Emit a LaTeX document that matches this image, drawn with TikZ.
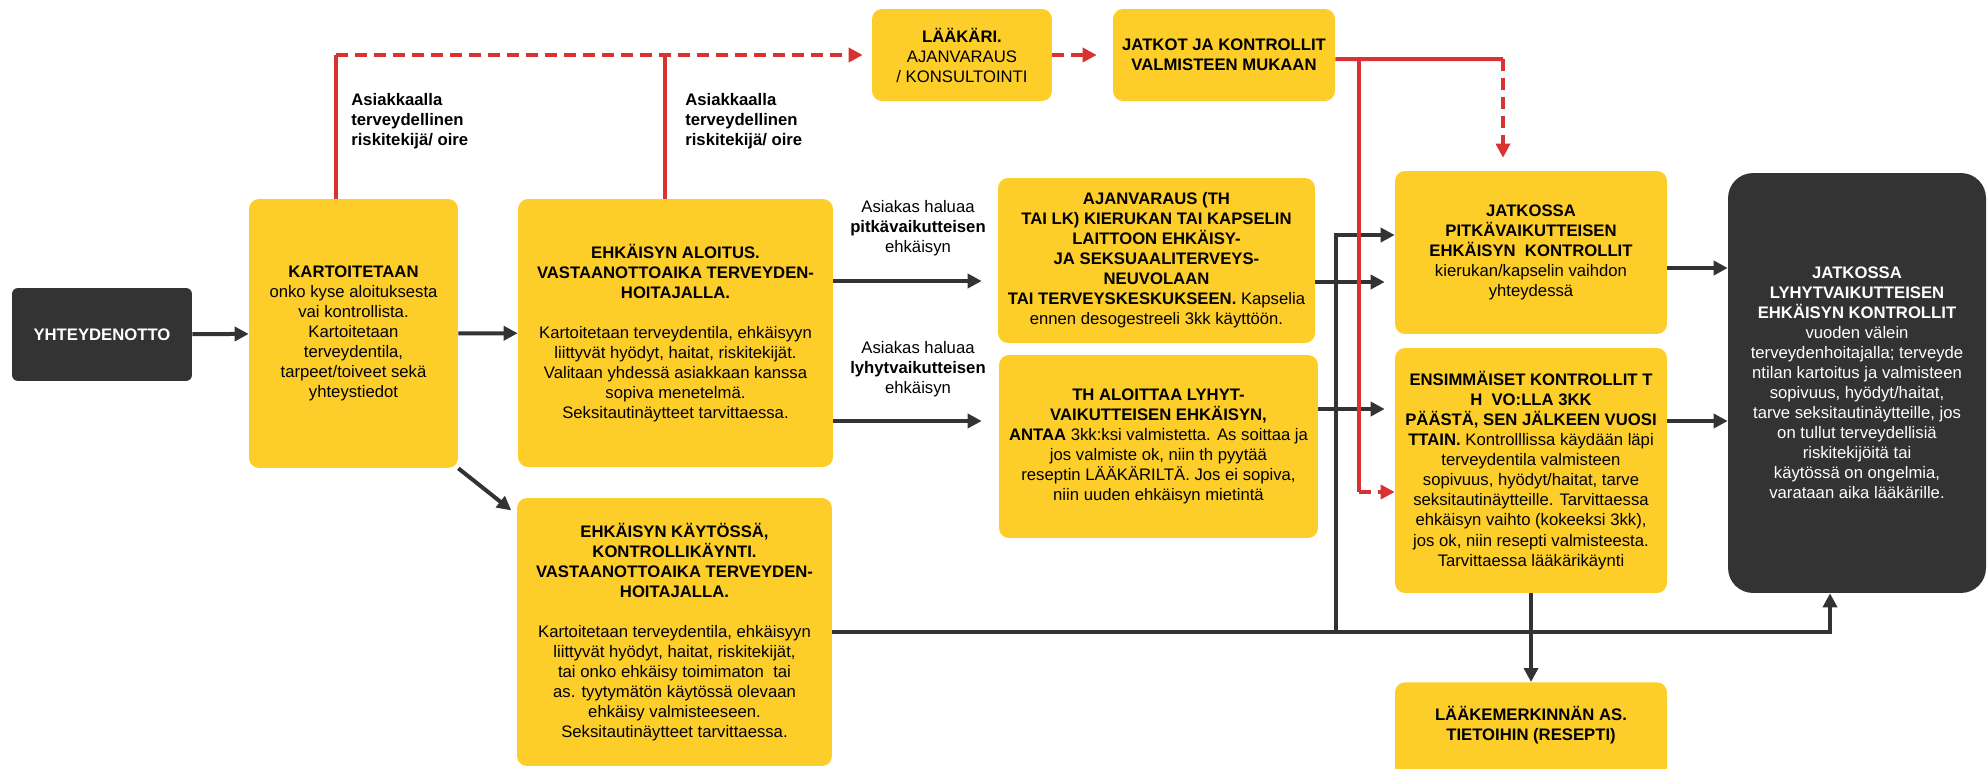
\documentclass[tikz,border=0pt]{standalone}
\usepackage{fontspec}
\setmainfont{Liberation Sans}
\usepackage{tikz}
\usepackage{xcolor}
\usetikzlibrary{arrows.meta}
\definecolor{boxyellow}{RGB}{253,206,42}
\definecolor{boxdark}{RGB}{51,51,51}
\definecolor{linered}{RGB}{217,50,50}
\tikzset{
    ybox/.style={fill=boxyellow,rounded corners=0.2cm,align=center,inner sep=0pt},
    dbox/.style={fill=boxdark,text=white,rounded corners=0.5cm,align=center,inner sep=0pt},
    lab/.style={inner sep=0pt},
    arr/.style={boxdark,line width=0.08cm,-{Triangle[length=0.28cm,width=0.28cm]}},
    gline/.style={boxdark,line width=0.08cm},
    rline/.style={linered,line width=0.08cm},
    rarr/.style={linered,line width=0.08cm,dash pattern=on 0.24cm off 0.14cm,-{Triangle[length=0.28cm,width=0.28cm]}}
}

\begin{document}
\begin{tikzpicture}[x=0.02cm,y=-0.02cm,font=\fontsize{9.5}{11.4}\selectfont]
            \useasboundingbox(0,0) rectangle (1987,768);
            \fill[white](0,0) rectangle (1987,768);

            \node[dbox,rounded corners=0.12cm,minimum width=3.6cm,minimum height=1.86cm] (yht) at (102,334.5){\textbf{YHTEYDENOTTO}};
            \node[ybox,minimum width=4.18cm,minimum height=5.38cm] (kart) at (353.5,333.5){\textbf{KARTOITETAAN}\\onko kyse aloituksesta\\vai kontrollista.\\Kartoitetaan\\terveydentila,\\tarpeet/toiveet sekä\\yhteystiedot};
            \node[ybox,minimum width=6.3cm,minimum height=5.36cm] (aloitus) at (675.5,333){\textbf{EHKÄISYN ALOITUS.}\\\textbf{VASTAANOTTOAIKA TERVEYDEN-}\\\textbf{HOITAJALLA.}\\[11.4pt]Kartoitetaan terveydentila, ehkäisyyn\\liittyvät hyödyt, haitat, riskitekijät.\\Valitaan yhdessä asiakkaan kanssa\\sopiva menetelmä.\\Seksitautinäytteet tarvittaessa.};
            \node[ybox,minimum width=6.3cm,minimum height=5.36cm] (kaytossa) at (674.5,632){\textbf{EHKÄISYN KÄYTÖSSÄ,}\\\textbf{KONTROLLIKÄYNTI.}\\\textbf{VASTAANOTTOAIKA TERVEYDEN-}\\\textbf{HOITAJALLA.}\\[11.4pt]Kartoitetaan terveydentila, ehkäisyyn\\liittyvät hyödyt, haitat, riskitekijät,\\tai onko ehkäisy toimimaton\ \ tai\\as. tyytymätön käytössä olevaan\\ehkäisy valmisteeseen.\\Seksitautinäytteet tarvittaessa.};
            \node[ybox,minimum width=6.34cm,minimum height=3.3cm] (ajanvaraus) at (1156.5,260.5){\textbf{AJANVARAUS (TH}\\\textbf{TAI LK) KIERUKAN TAI KAPSELIN}\\\textbf{LAITTOON EHKÄISY-}\\\textbf{JA SEKSUAALITERVEYS-}\\\textbf{NEUVOLAAN}\\\textbf{TAI TERVEYSKESKUKSEEN.} Kapselia\\ennen desogestreeli 3kk käyttöön.};
            \node[ybox,minimum width=6.38cm,minimum height=3.66cm] (th) at (1158.5,446.5){\textbf{TH ALOITTAA LYHYT-}\\\textbf{VAIKUTTEISEN EHKÄISYN,}\\\textbf{ANTAA} 3kk:ksi valmistetta. As soittaa ja\\jos valmiste ok, niin th pyytää\\reseptin LÄÄKÄRILTÄ. Jos ei sopiva,\\niin uuden ehkäisyn mietintä};
            \node[ybox,minimum width=3.6cm,minimum height=1.84cm] (laakari) at (962,55){\textbf{LÄÄKÄRI.}\\AJANVARAUS\\/ KONSULTOINTI};
            \node[ybox,minimum width=4.44cm,minimum height=1.84cm] (jatkot) at (1224,55){\textbf{JATKOT JA KONTROLLIT}\\\textbf{VALMISTEEN MUKAAN}};
            \node[ybox,minimum width=5.44cm,minimum height=3.26cm] (pitka) at (1531,252.5){\textbf{JATKOSSA}\\\textbf{PITKÄVAIKUTTEISEN}\\\textbf{EHKÄISYN\ \ KONTROLLIT}\\kierukan/kapselin vaihdon\\yhteydessä};
            \node[ybox,minimum width=5.44cm,minimum height=4.9cm] (ensimmaiset) at (1531,470.5){\textbf{ENSIMMÄISET KONTROLLIT T}\\\textbf{H\ \ VO:LLA 3KK}\\\textbf{PÄÄSTÄ, SEN JÄLKEEN VUOSI}\\\textbf{TTAIN.} Kontrolllissa käydään läpi\\terveydentila valmisteen\\sopivuus, hyödyt/haitat, tarve\\seksitautinäytteille. Tarvittaessa\\ehkäisyn vaihto (kokeeksi 3kk),\\jos ok, niin resepti valmisteesta.\\Tarvittaessa lääkärikäynti};
            \node[ybox,anchor=north,minimum width=5.44cm,minimum height=2.0cm] (resepti) at (1531,682){\textbf{LÄÄKEMERKINNÄN AS.}\\\textbf{TIETOIHIN (RESEPTI)}\rule[-0.36cm]{0pt}{0pt}};
            \node[dbox,minimum width=5.16cm,minimum height=8.4cm] (dark) at (1857,383){\textbf{JATKOSSA}\\\textbf{LYHYTVAIKUTTEISEN}\\\textbf{EHKÄISYN KONTROLLIT}\\vuoden välein\\terveydenhoitajalla; terveyde\\ntilan kartoitus ja valmisteen\\sopivuus, hyödyt/haitat,\\tarve seksitautinäytteille, jos\\on tullut terveydellisiä\\riskitekijöitä tai\\käytössä on ongelmia,\\varataan aika lääkärille.};

            \node[lab,anchor=west,align=left,font=\fontsize{9.5}{11.4}\selectfont\bfseries] (risk1) at (351,121){Asiakkaalla\\terveydellinen\\riskitekijä/ oire};
            \node[lab,anchor=west,align=left,font=\fontsize{9.5}{11.4}\selectfont\bfseries] (risk2) at (685,121){Asiakkaalla\\terveydellinen\\riskitekijä/ oire};
            \node[lab,align=center] (pitkalab) at (918,228){Asiakas haluaa\\\textbf{pitkävaikutteisen}\\ehkäisyn};
            \node[lab,align=center] (lyhytlab) at (918,369){Asiakas haluaa\\\textbf{lyhytvaikutteisen}\\ehkäisyn};

            \coordinate (knot) at (1336,632);
            \coordinate (rbend) at (1503,59);
            \coordinate (rdrop) at (1359,59);
            \coordinate (rturn) at (1359,492);

            \draw[arr](yht) -- (kart);
            \draw[arr](kart) -- (aloitus);
            \draw[arr,shorten >=0.14cm](kart.south east) -- ([yshift=-0.34cm]kaytossa.north west);
            \draw[arr,shorten >=0.32cm]([yshift=1.04cm]aloitus.east) -- ([yshift=1.04cm]aloitus.east -| ajanvaraus.west);
            \draw[arr,shorten >=0.34cm]([yshift=-1.76cm]aloitus.east) -- ([yshift=-1.76cm]aloitus.east -| th.west);
            \draw[arr,shorten >=0.2cm]([yshift=-0.43cm]ajanvaraus.east) -- ([yshift=-0.43cm]ajanvaraus.east -| pitka.west);
            \draw[arr,shorten >=0.2cm]([yshift=0.75cm]th.east) -- ([yshift=0.75cm]th.east -| ensimmaiset.west);
            \draw[arr]([yshift=-0.31cm]pitka.east) -- ([yshift=-0.31cm]pitka.east -| dark.west);
            \draw[arr]([yshift=0.99cm]ensimmaiset.east) -- ([yshift=0.99cm]ensimmaiset.east -| dark.west);
            \draw[arr](kaytossa.east) -| ([xshift=-0.54cm]dark.south);
            \draw[arr](knot) |- ([yshift=0.35cm]pitka.west);
            \draw[arr](ensimmaiset) -- (resepti);

            \draw[rline]([xshift=-0.35cm]kart.north) -- ([xshift=-0.35cm]kart.north |- laakari.west);
            \draw[rline]([xshift=-0.21cm]aloitus.north) -- ([xshift=-0.21cm]aloitus.north |- laakari.west);
            \draw[rarr,shorten >=0.18cm]([xshift=-0.35cm]kart.north |- laakari.west) -- (laakari.west);
            \draw[rarr,shorten >=0.32cm](laakari) -- (jatkot);
            \draw[rline]([yshift=-0.08cm]jatkot.east) -- (rbend);
            \draw[rarr,shorten >=0.26cm](rbend) -- (rbend |- pitka.north);
            \draw[rline](rdrop) -- (rturn);
            \draw[rarr](rturn) -- (rturn -| ensimmaiset.west);
\end{tikzpicture}
\end{document}
